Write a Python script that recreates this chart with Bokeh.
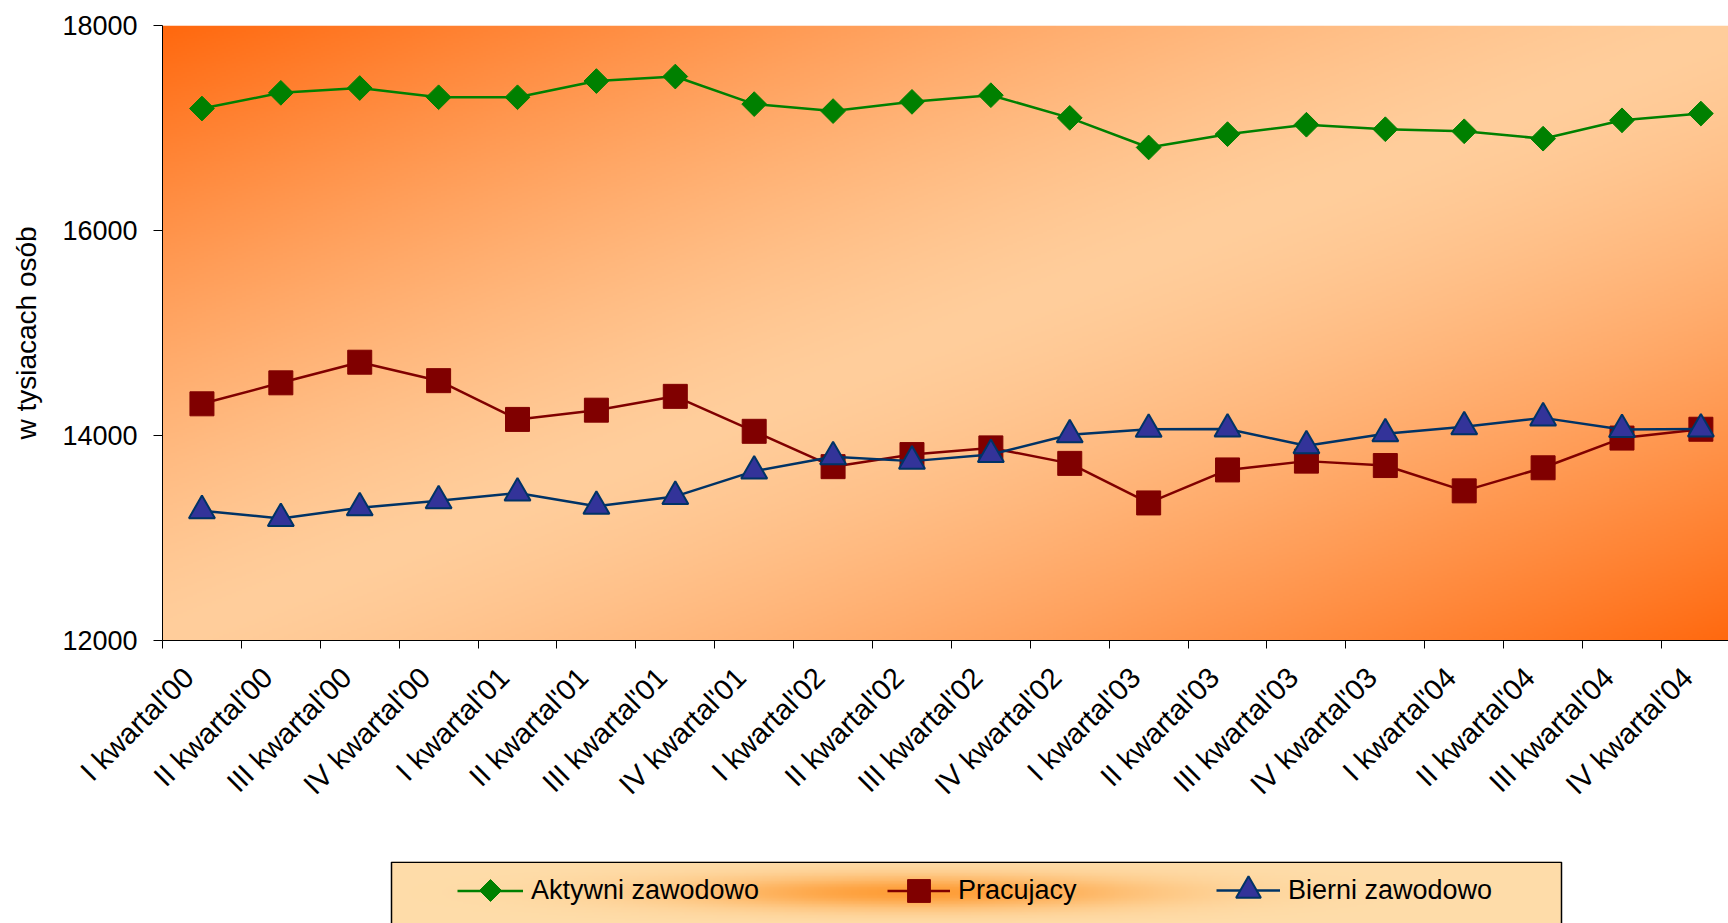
import numpy as np
from math import pi
from bokeh.plotting import figure
from bokeh.models import Range1d, FixedTicker, Legend, LegendItem, NumeralTickFormatter
from bokeh.layouts import column
from bokeh.embed import file_html
from bokeh.resources import INLINE

# ---------------- data ----------------
categories = ["I kwartal'00", "II kwartal'00", "III kwartal'00", "IV kwartal'00",
              "I kwartal'01", "II kwartal'01", "III kwartal'01", "IV kwartal'01",
              "I kwartal'02", "II kwartal'02", "III kwartal'02", "IV kwartal'02",
              "I kwartal'03", "II kwartal'03", "III kwartal'03", "IV kwartal'03",
              "I kwartal'04", "II kwartal'04", "III kwartal'04", "IV kwartal'04"]
aktywni = [17190, 17343, 17390, 17300, 17300, 17458, 17502, 17233, 17165, 17255,
           17320, 17099, 16810, 16940, 17032, 16988, 16968, 16896, 17075, 17141]
pracujacy = [14309, 14514, 14715, 14535, 14157, 14247, 14382, 14041, 13696, 13814,
             13879, 13728, 13342, 13664, 13750, 13707, 13460, 13685, 13975, 14061]
bierni = [13267, 13191, 13295, 13364, 13439, 13310, 13406, 13653, 13793, 13750,
          13814, 14007, 14061, 14064, 13900, 14018, 14085, 14172, 14058, 14064]
y_ticks = [12000, 14000, 16000, 18000]
series_names = ["Aktywni zawodowo", "Pracujacy", "Bierni zawodowo"]

FONT = "Liberation Sans"
GREEN = "#008000"
RED = "#800000"
NAVY_FILL = "#333399"
NAVY_LINE = "#003366"

n = len(categories)
xc = [i + 0.5 for i in range(n)]
X_END = 19.85
LABEL_SHIFT = -0.17  # label anchor offset (categories units)
FRAME_LEFT = 162
FIG_W = 1728

p = figure(width=FIG_W, height=861, x_range=Range1d(0, X_END), y_range=Range1d(12000, 18000),
           output_backend="svg", toolbar_location=None,
           min_border_left=FRAME_LEFT, min_border_right=0, min_border_top=25, min_border_bottom=221)
p.background_fill_color = "white"
p.border_fill_color = "white"
p.outline_line_color = None

# gradient background of the plot area
W, H = 800, 320
u = np.linspace(0, 1, W)[None, :]
v = np.linspace(1, 0, H)[:, None]
d = np.clip(np.abs(u + v - 1), 0, 1) ** 1.35
c_light = np.array([255, 206, 156], dtype=float)
c_dark = np.array([255, 104, 14], dtype=float)
rgb = c_light[None, None, :] + (c_dark - c_light)[None, None, :] * d[..., None]
img = np.empty((H, W), dtype=np.uint32)
view = img.view(dtype=np.uint8).reshape((H, W, 4))
for k in range(3):
    view[..., k] = rgb[..., k].astype(np.uint8)
view[..., 3] = 255
p.image_rgba(image=[img], x=0, y=y_ticks[0], dw=n, dh=y_ticks[-1] - y_ticks[0])

# series
p.line(xc, aktywni, line_color=GREEN, line_width=2.5)
p.scatter(xc, aktywni, marker="square", angle=pi / 4, size=17.5, fill_color=GREEN, line_color=GREEN)
p.line(xc, pracujacy, line_color=RED, line_width=2.5)
p.scatter(xc, pracujacy, marker="square", size=24, fill_color=RED, line_color=RED)
p.line(xc, bierni, line_color=NAVY_LINE, line_width=2.5)
p.scatter(xc, bierni, marker="triangle", size=26, fill_color=NAVY_FILL, line_color=NAVY_LINE, line_width=2)

# grid
p.xgrid.visible = False
p.ygrid.ticker = FixedTicker(ticks=y_ticks)
p.ygrid.grid_line_color = "black"
p.ygrid.grid_line_width = 1

# y axis
p.yaxis.ticker = FixedTicker(ticks=y_ticks, minor_ticks=[])
p.yaxis.formatter = NumeralTickFormatter(format="0")
p.yaxis.major_tick_out = 9
p.yaxis.major_tick_in = 0
p.yaxis.major_label_standoff = 16
p.yaxis.major_label_text_font = FONT
p.yaxis.major_label_text_font_size = "27px"
p.yaxis.major_label_text_color = "black"
p.yaxis.axis_line_color = "black"
p.yaxis.major_tick_line_color = "black"
p.yaxis.axis_label = "w tysiacach osób"
p.yaxis.axis_label_text_font = FONT
p.yaxis.axis_label_text_font_size = "28px"
p.yaxis.axis_label_text_font_style = "normal"
p.yaxis.axis_label_text_color = "black"
p.yaxis.axis_label_standoff = 17

# x axis
label_pos = [c + LABEL_SHIFT for c in xc]
p.xaxis.ticker = FixedTicker(ticks=label_pos, minor_ticks=list(range(n + 1)))
p.xaxis.major_label_overrides = {t: lab for t, lab in zip(label_pos, categories)}
p.xaxis.major_label_orientation = pi / 4
p.xaxis.major_tick_out = 0
p.xaxis.major_tick_in = 0
p.xaxis.minor_tick_out = 8
p.xaxis.minor_tick_in = 0
p.xaxis.minor_tick_line_color = "black"
p.xaxis.axis_line_color = "black"
p.xaxis.major_label_standoff = 24
p.xaxis.major_label_text_font = FONT
p.xaxis.major_label_text_font_size = "29px"
p.xaxis.major_label_text_color = "black"

# ---------------- legend box (frame aligned with the chart frame, pixel units) ----------------
LEG_H = 62
ROW_Y = 33
BOX_L, BOX_R = 391, 1561
pl = figure(width=FIG_W, height=LEG_H, x_range=Range1d(FRAME_LEFT, FIG_W), y_range=Range1d(0, LEG_H),
            output_backend="svg", toolbar_location=None,
            min_border_left=FRAME_LEFT, min_border_right=0, min_border_top=0, min_border_bottom=0)
pl.axis.visible = False
pl.grid.visible = False
pl.outline_line_color = None
pl.background_fill_color = "white"
pl.border_fill_color = "white"

LW, LH = 600, 40
lu = np.linspace(0, 1, LW)[None, :]
lv = np.linspace(1, 0, LH)[:, None]
g = np.exp(-(((lu - 0.45) / 0.2) ** 2) - (((lv - 0.5) / 0.28) ** 2))
c_base = np.array([254, 221, 170], dtype=float)
c_core = np.array([255, 158, 56], dtype=float)
lrgb = c_base[None, None, :] + (c_core - c_base)[None, None, :] * g[..., None]
limg = np.empty((LH, LW), dtype=np.uint32)
lview = limg.view(dtype=np.uint8).reshape((LH, LW, 4))
for k in range(3):
    lview[..., k] = lrgb[..., k].astype(np.uint8)
lview[..., 3] = 255
pl.image_rgba(image=[limg], x=BOX_L, y=0, dw=BOX_R - BOX_L, dh=LEG_H)
pl.quad(left=[BOX_L], right=[BOX_R], top=[LEG_H - 0.75], bottom=[-10],
        fill_color=None, line_color="black", line_width=1.5)

nan = [float("nan")]
l1 = pl.line(nan, nan, line_color=GREEN, line_width=2.5)
l2 = pl.line(nan, nan, line_color=RED, line_width=2.5)
m2 = pl.scatter(nan, nan, marker="square", size=24, fill_color=RED, line_color=RED)
l3 = pl.line(nan, nan, line_color=NAVY_LINE, line_width=2.5)
m3 = pl.scatter(nan, nan, marker="triangle", size=26, fill_color=NAVY_FILL, line_color=NAVY_LINE, line_width=2)

legend_specs = [
    (series_names[0], [l1], 457, 66, 39),
    (series_names[1], [l2, m2], 887, 63, 57),
    (series_names[2], [l3, m3], 1216, 64, 62),
]
for name, rends, lx, gw, gh in legend_specs:
    lg = Legend(items=[LegendItem(label=name, renderers=rends, index=0)],
                location=(lx - FRAME_LEFT, ROW_Y - gh / 2),
                glyph_width=gw, glyph_height=gh, label_standoff=8, padding=0, margin=0,
                label_text_font=FONT, label_text_font_size="27px", label_text_color="black",
                background_fill_alpha=0, border_line_color=None)
    pl.add_layout(lg, "center")

# rotated-square legend sample for the first series (legend glyphs ignore marker angle)
pl.scatter([legend_specs[0][2] + legend_specs[0][3] / 2], [ROW_Y], marker="square", angle=pi / 4,
           size=15.5, fill_color=GREEN, line_color=GREEN, level="overlay")

layout = column(p, pl, spacing=0)
open("out.html", "w").write(file_html(layout, INLINE))
